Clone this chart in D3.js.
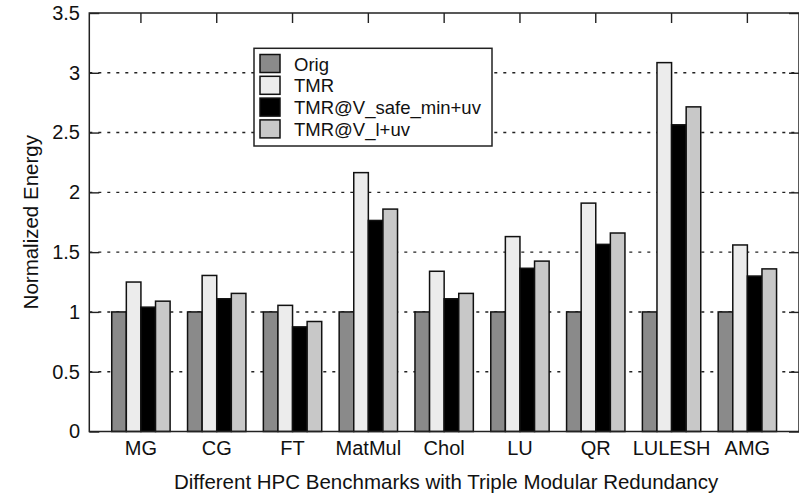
<!DOCTYPE html>
<html>
<head>
<meta charset="utf-8">
<script src="https://cdn.jsdelivr.net/npm/d3@7"></script>
<style>
  body { margin: 0; background: #fff; }
  text { font-family: "Liberation Sans", Arial, Helvetica, sans-serif; fill: #111; }
</style>
</head>
<body>
<svg id="chart" width="799" height="496"></svg>
<script>
// benchmarks and series
const benchmarks = ["MG", "CG", "FT", "MatMul", "Chol", "LU", "QR", "LULESH", "AMG"];
const seriesNames = ["Orig", "TMR", "TMR@V_safe_min+uv", "TMR@V_l+uv"];
const seriesColors = ["#8a8a8a", "#ececec", "#000000", "#c8c8c8"];

const orig    = [1, 1, 1, 1, 1, 1, 1, 1, 1];
const tmr     = [1.25, 1.305, 1.055, 2.165, 1.34, 1.63, 1.91, 3.085, 1.56];
const tmrSafe = [1.04, 1.11, 0.875, 1.765, 1.11, 1.365, 1.565, 2.565, 1.30];
const tmrL    = [1.09, 1.155, 0.92, 1.86, 1.155, 1.425, 1.66, 2.715, 1.36];
const yTicks  = [0, 0.5, 1, 1.5, 2, 2.5, 3, 3.5];

const series = [orig, tmr, tmrSafe, tmrL];

const svg = d3.select("#chart");
const pLeft = 89.3, pRight = 799, pTop = 13, pBottom = 431.5;

const x = d3.scaleBand()
  .domain(benchmarks)
  .range([pLeft, pRight])
  .paddingInner(0.23)
  .paddingOuter(0.296);

const xs = d3.scaleBand()
  .domain(d3.range(seriesNames.length))
  .range([0, x.bandwidth()]);

const y = d3.scaleLinear().domain([0, 3.5]).range([pBottom, pTop]);

// dotted grid
svg.append("g")
  .selectAll("line")
  .data(yTicks.filter(t => t > 0 && t < 3.5))
  .join("line")
  .attr("x1", pLeft).attr("x2", pRight)
  .attr("y1", d => y(d)).attr("y2", d => y(d))
  .attr("stroke", "#222")
  .attr("stroke-width", 1.4)
  .attr("stroke-dasharray", "3,6");

// ticks on all four sides, pointing inward
function styleAxis(g) {
  g.select(".domain").remove();
  g.selectAll(".tick line").attr("stroke", "#222").attr("stroke-width", 1.4);
  g.selectAll(".tick text")
    .style("font-size", "20px")
    .style("font-family", "'Liberation Sans', Arial, sans-serif")
    .attr("fill", "#111");
}

svg.append("g")
  .attr("transform", `translate(0,${pBottom})`)
  .call(d3.axisBottom(x).tickSizeInner(-10).tickSizeOuter(0).tickPadding(9.3))
  .call(styleAxis);

svg.append("g")
  .attr("transform", `translate(0,${pTop})`)
  .call(d3.axisTop(x).tickSizeInner(-10).tickSizeOuter(0).tickFormat(""))
  .call(styleAxis);

svg.append("g")
  .attr("transform", `translate(${pLeft},0)`)
  .call(d3.axisLeft(y).tickValues(yTicks).tickSizeInner(-10).tickSizeOuter(0)
    .tickPadding(9.3).tickFormat(d => String(d)))
  .call(styleAxis);

svg.append("g")
  .attr("transform", `translate(${pRight},0)`)
  .call(d3.axisRight(y).tickValues(yTicks).tickSizeInner(-10).tickSizeOuter(0).tickFormat(""))
  .call(styleAxis);

// bars
const groups = svg.append("g")
  .selectAll("g")
  .data(benchmarks)
  .join("g")
  .attr("transform", d => `translate(${x(d)},0)`);

groups.selectAll("rect")
  .data((d, i) => series.map((s, k) => ({ k: k, v: s[i] })))
  .join("rect")
  .attr("x", d => xs(d.k))
  .attr("width", xs.bandwidth())
  .attr("y", d => y(d.v))
  .attr("height", d => y(0) - y(d.v))
  .attr("fill", d => seriesColors[d.k])
  .attr("stroke", "#111")
  .attr("stroke-width", 1.5);

// frame
svg.append("rect")
  .attr("x", pLeft).attr("y", pTop)
  .attr("width", pRight - pLeft).attr("height", pBottom - pTop)
  .attr("fill", "none")
  .attr("stroke", "#222")
  .attr("stroke-width", 1.5);

// legend
const legend = svg.append("g").attr("transform", "translate(254,48.3)");
legend.append("rect")
  .attr("width", 238).attr("height", 97.7)
  .attr("fill", "#fff")
  .attr("stroke", "#222")
  .attr("stroke-width", 1.5);

const rows = legend.selectAll("g")
  .data(seriesNames)
  .join("g")
  .attr("transform", (d, i) => `translate(0,${15.7 + i * 21.8})`);

rows.append("rect")
  .attr("x", 6).attr("y", -9.5)
  .attr("width", 20).attr("height", 18)
  .attr("fill", (d, i) => seriesColors[i])
  .attr("stroke", "#111")
  .attr("stroke-width", 1.5);

rows.append("text")
  .attr("x", 40)
  .attr("dy", "0.36em")
  .style("font-size", "18.5px")
  .text(d => d);

// axis titles
svg.append("text")
  .attr("x", (pLeft + pRight) / 2 + 2)
  .attr("y", 489)
  .attr("text-anchor", "middle")
  .style("font-size", "20.5px")
  .text("Different HPC Benchmarks with Triple Modular Redundancy");

svg.append("text")
  .attr("transform", `translate(38,${(pTop + pBottom) / 2}) rotate(-90)`)
  .attr("text-anchor", "middle")
  .style("font-size", "20.5px")
  .text("Normalized Energy");
</script>
</body>
</html>
